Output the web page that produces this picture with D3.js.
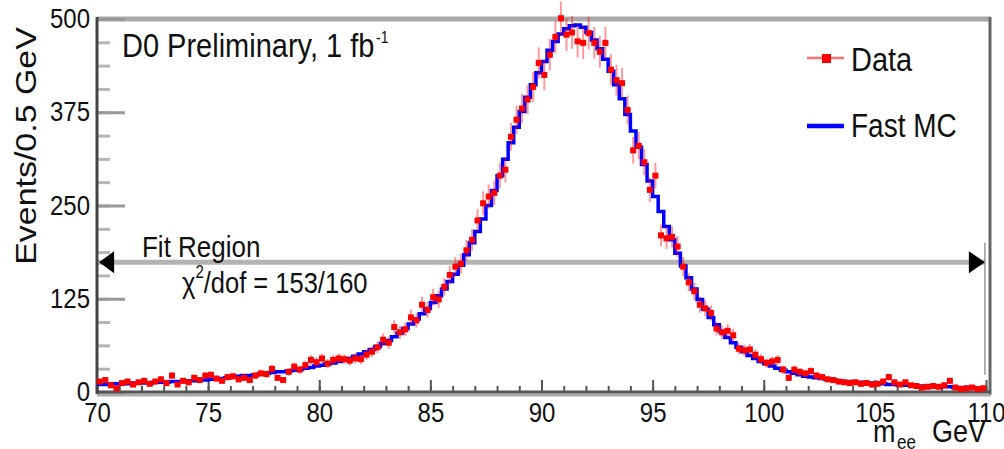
<!DOCTYPE html>
<html><head><meta charset="utf-8">
<script src="https://cdn.jsdelivr.net/npm/d3@7"></script>
<style>
html,body{margin:0;padding:0;background:#fff;}
svg{display:block;font-family:"Liberation Sans",Arial,Helvetica,sans-serif;}
</style></head><body>
<svg id="chart" width="1004" height="449"></svg>
<script>
// ---- data: m_ee in 160 bins of 0.25 GeV from 70 to 110 GeV ----
const binWidth = 0.25;
const binLowEdges = d3.range(160).map(i => 70 + binWidth * i);
const dataCounts = [
  14, 16, 9, 5, 12, 14, 10, 13, 15, 11,
  14, 17, 12, 22, 10, 15, 13, 19, 16, 22,
  23, 18, 15, 20, 21, 17, 19, 16, 22, 25,
  24, 31, 19, 16, 27, 34, 30, 36, 43, 40,
  45, 38, 43, 45, 44, 42, 45, 44, 50, 54,
  60, 70, 66, 87, 80, 84, 100, 96, 117, 110,
  127, 124, 141, 157, 168, 172, 190, 204, 230, 253,
  262, 267, 290, 298, 342, 365, 380, 392, 409, 441,
  425, 452, 476, 501, 479, 482, 470, 468, 481, 468,
  456, 468, 432, 418, 414, 378, 324, 330, 308, 271,
  290, 210, 206, 208, 195, 168, 147, 135, 117, 112,
  106, 85, 80, 82, 76, 58, 56, 57, 50, 44,
  39, 41, 43, 30, 19, 30, 27, 25, 28, 22,
  20, 17, 16, 14, 13, 12, 13, 11, 12, 10,
  11, 14, 20, 13, 10, 13, 9, 8, 6, 7,
  8, 7, 9, 15, 6, 4, 5, 6, 4, 5
];
const mcCounts = [
  10, 10, 11, 11, 11, 11, 12, 12, 12, 12,
  13, 13, 13, 14, 14, 14, 15, 15, 16, 16,
  17, 17, 18, 19, 20, 21, 22, 22, 23, 24,
  25, 26, 27, 27, 28, 29, 30, 32, 33, 35,
  36, 38, 39, 41, 43, 45, 48, 51, 54, 57,
  61, 65, 69, 74, 79, 85, 91, 98, 105, 112,
  120, 129, 138, 148, 158, 170, 184, 200, 215, 232,
  250, 270, 290, 312, 334, 355, 376, 395, 412, 428,
  443, 458, 470, 480, 487, 491, 492, 489, 482, 472,
  460, 446, 430, 412, 393, 372, 350, 328, 305, 283,
  262, 242, 222, 204, 186, 169, 153, 138, 124, 111,
  100, 90, 81, 73, 66, 60, 54, 49, 45, 41,
  38, 35, 32, 29, 27, 25, 23, 21, 20, 19,
  18, 17, 16, 15, 14, 14, 13, 13, 12, 12,
  11, 11, 10, 10, 9, 9, 9, 8, 8, 8,
  7, 7, 7, 7, 6, 6, 6, 6, 5, 5
];
const xTickValues = [70, 75, 80, 85, 90, 95, 100, 105, 110];
const xMinorTickValues = d3.range(70, 111, 1);
const yTickValues = [0, 125, 250, 375, 500];
const yMinorTickValues = d3.range(0, 501, 31.25);
const fitRange = [70.05, 109.95];
const fitLevel = 174;
const legendLabels = ["Data", "Fast MC"];

// ---- setup ----
const SY = 1.17; // vertical stretch of the original rendering
const svg = d3.select("#chart");
const x = d3.scaleLinear().domain([70, 110]).range([97, 986]);
const y = d3.scaleLinear().domain([0, 500]).range([392, 19]);

function txt(px, py, str, size, anchor) {
  return svg.append("text")
    .attr("transform", `translate(${px},${py}) scale(1,${SY})`)
    .attr("font-size", size)
    .attr("text-anchor", anchor || "start")
    .attr("fill", "#111")
    .text(str);
}

// ---- frame ----
svg.append("line").attr("x1", x(70)).attr("x2", x(110) + 5)
  .attr("y1", y(500)).attr("y2", y(500))
  .attr("stroke", "#aaa").attr("stroke-width", 5);
svg.append("line").attr("x1", x(110) + 4).attr("x2", x(110) + 4)
  .attr("y1", y(500) - 2).attr("y2", y(0) + 3)
  .attr("stroke", "#666").attr("stroke-width", 3);

// ---- fit region ----
svg.append("line").attr("x1", x(fitRange[0])).attr("x2", x(fitRange[1]))
  .attr("y1", y(fitLevel)).attr("y2", y(fitLevel))
  .attr("stroke", "#b3b3b3").attr("stroke-width", 5);
svg.append("line").attr("x1", x(fitRange[1])).attr("x2", x(fitRange[1]))
  .attr("y1", y(200)).attr("y2", y(23))
  .attr("stroke", "#999").attr("stroke-width", 1.5);
{
  const yl = y(fitLevel), xl = x(fitRange[0]), xr = x(fitRange[1]);
  svg.append("path").attr("d", `M${xl + 1},${yl} L${xl + 16},${yl - 11} L${xl + 16},${yl + 11} Z`).attr("fill", "#000");
  svg.append("path").attr("d", `M${xr},${yl} L${xr - 16},${yl - 11} L${xr - 16},${yl + 11} Z`).attr("fill", "#000");
}

// ---- axes ----
const yMinor = svg.append("g").attr("transform", `translate(${x(70)},0)`)
  .call(d3.axisLeft(y).tickValues(yMinorTickValues).tickSize(-13).tickFormat(""));
yMinor.select(".domain").remove();
yMinor.selectAll(".tick line").attr("stroke", "#b5b5b5").attr("stroke-width", 3);

const yAxis = svg.append("g").attr("transform", `translate(${x(70)},0)`)
  .call(d3.axisLeft(y).tickValues(yTickValues).tickSize(-28).tickPadding(7));
yAxis.select(".domain").remove();
yAxis.selectAll(".tick line").attr("stroke", "#999").attr("stroke-width", 3);
yAxis.selectAll(".tick text")
  .attr("x", null).attr("dy", null)
  .attr("transform", `translate(-7,8.5) scale(1,${SY})`)
  .attr("font-size", 24).attr("font-family", "Liberation Sans, Arial, sans-serif")
  .attr("fill", "#111");

const xMinor = svg.append("g").attr("transform", `translate(0,${y(0)})`)
  .call(d3.axisBottom(x).tickValues(xMinorTickValues).tickSize(-6).tickFormat(""));
xMinor.select(".domain").remove();
xMinor.selectAll(".tick line").attr("stroke", "#555").attr("stroke-width", 2);

const xAxis = svg.append("g").attr("transform", `translate(0,${y(0)})`)
  .call(d3.axisBottom(x).tickValues(xTickValues).tickSize(-12));
xAxis.select(".domain").remove();
xAxis.selectAll(".tick line").attr("stroke", "#555").attr("stroke-width", 2);
xAxis.selectAll(".tick text")
  .attr("y", null).attr("dy", null)
  .attr("transform", `translate(0,30) scale(1,${SY})`)
  .attr("font-size", 24).attr("font-family", "Liberation Sans, Arial, sans-serif")
  .attr("fill", "#111");

// axis lines
svg.append("line").attr("x1", x(70)).attr("x2", x(110) + 5)
  .attr("y1", y(0) + 3).attr("y2", y(0) + 3)
  .attr("stroke", "#aaa").attr("stroke-width", 3);
svg.append("line").attr("x1", x(70)).attr("x2", x(110) + 5)
  .attr("y1", y(0)).attr("y2", y(0))
  .attr("stroke", "#555").attr("stroke-width", 3);
svg.append("line").attr("x1", x(70)).attr("x2", x(70))
  .attr("y1", y(500) - 2).attr("y2", y(0) + 2)
  .attr("stroke", "#444").attr("stroke-width", 3);

// ---- MC histogram ----
const mcPts = binLowEdges.map((e, i) => [e, mcCounts[i]]);
mcPts.push([binLowEdges[binLowEdges.length - 1] + binWidth, mcCounts[mcCounts.length - 1]]);
const stepLine = d3.line().x(d => x(d[0])).y(d => y(d[1])).curve(d3.curveStepAfter);
svg.append("path").attr("d", stepLine(mcPts))
  .attr("fill", "none").attr("stroke", "#0000ff").attr("stroke-width", 3.5);

// ---- data points ----
const dg = svg.append("g");
const pts = binLowEdges.map((e, i) => ({ m: e + binWidth / 2, n: dataCounts[i] }));
dg.selectAll("line.ey").data(pts).join("line").attr("class", "ey")
  .attr("x1", d => x(d.m)).attr("x2", d => x(d.m))
  .attr("y1", d => y(d.n + Math.sqrt(d.n))).attr("y2", d => y(Math.max(0, d.n - Math.sqrt(d.n))))
  .attr("stroke", "#ff0000").attr("stroke-opacity", 0.4).attr("stroke-width", 2);
dg.selectAll("line.ex").data(pts).join("line").attr("class", "ex")
  .attr("x1", d => x(d.m - binWidth / 2)).attr("x2", d => x(d.m + binWidth / 2))
  .attr("y1", d => y(d.n)).attr("y2", d => y(d.n))
  .attr("stroke", "#ff0000").attr("stroke-opacity", 0.6).attr("stroke-width", 2);
dg.selectAll("rect").data(pts).join("rect")
  .attr("x", d => x(d.m) - 3).attr("y", d => y(d.n) - 3)
  .attr("width", 6).attr("height", 6).attr("fill", "#ff0000");

// ---- legend ----
svg.append("line").attr("x1", 807).attr("x2", 844).attr("y1", 58).attr("y2", 58)
  .attr("stroke", "#ff7070").attr("stroke-width", 2.5);
svg.append("rect").attr("x", 822).attr("y", 54).attr("width", 9).attr("height", 9).attr("fill", "#ff0000");
txt(851, 71, legendLabels[0], 29);
svg.append("line").attr("x1", 807).attr("x2", 844).attr("y1", 126).attr("y2", 126)
  .attr("stroke", "#0000ff").attr("stroke-width", 4.5);
txt(851, 137, legendLabels[1], 28);

// ---- annotations ----
txt(122, 57, "D0 Preliminary, 1 fb", 29);
txt(376, 43, "-1", 14);
txt(142, 257, "Fit Region", 26);
const chi = svg.append("text")
  .attr("transform", `translate(182,293) scale(1,${SY})`)
  .attr("font-size", 25.5).attr("fill", "#111");
chi.append("tspan").text("χ");
chi.append("tspan").attr("font-size", 15).attr("dy", -13).text("2");
chi.append("tspan").attr("dy", 13).text("/dof = 153/160");

// axis titles
svg.append("text")
  .attr("transform", `translate(36,146) scale(1,${SY}) rotate(-90)`)
  .attr("font-size", 29).attr("text-anchor", "middle").attr("fill", "#111")
  .text("Events/0.5 GeV");
txt(873, 442, "m", 27);
txt(897, 449, "ee", 17);
txt(932, 442, "GeV", 27);
</script>
</body></html>
